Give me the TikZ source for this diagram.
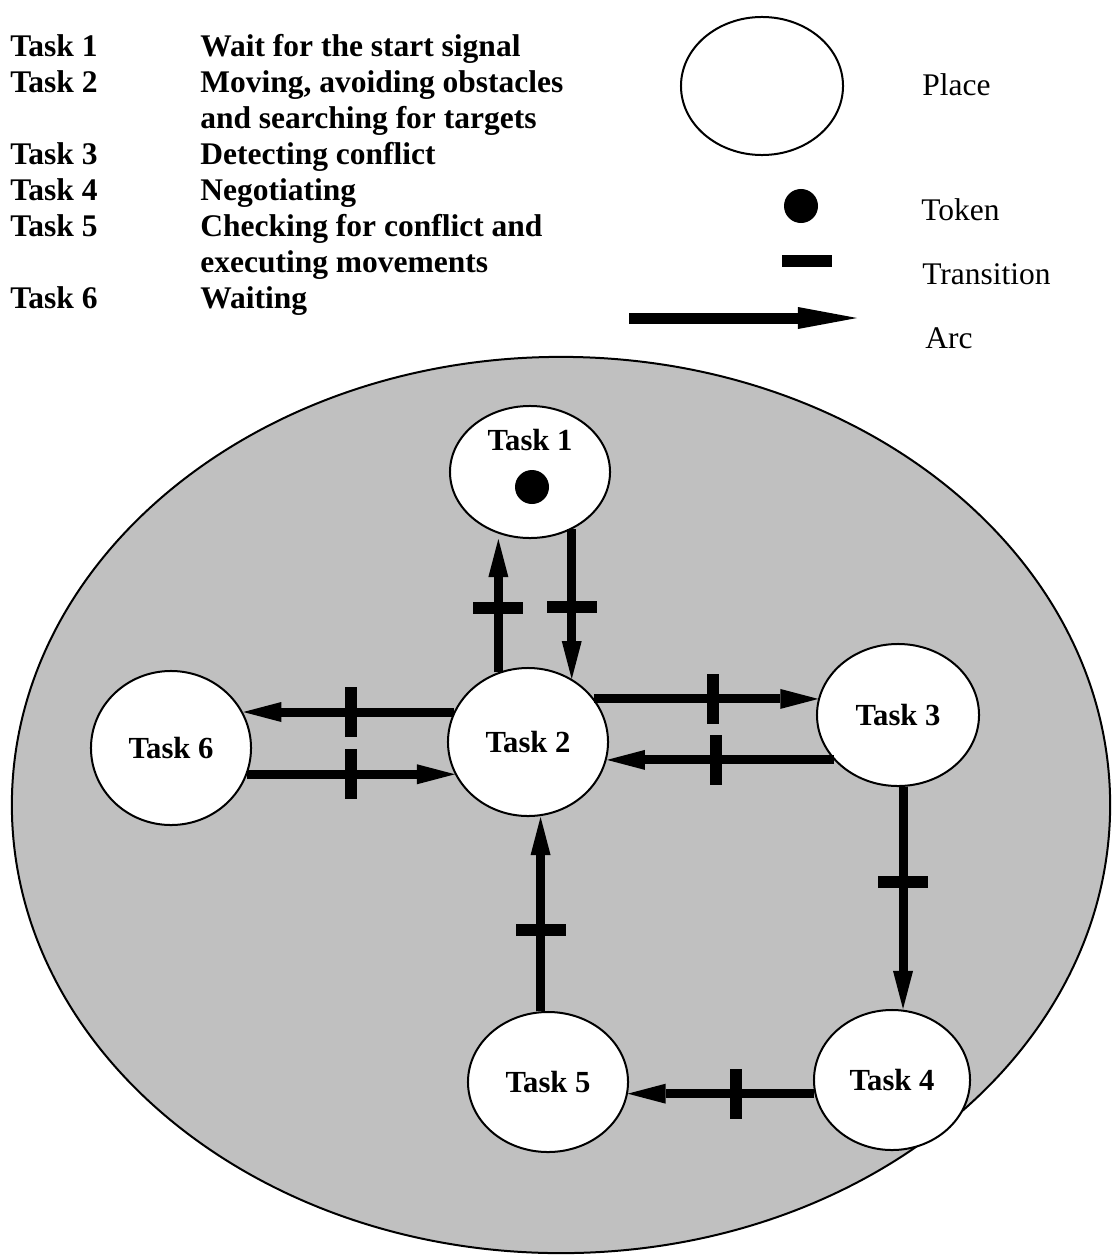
\documentclass[tikz,border=0pt]{standalone}
\usepackage{fontspec}
\setmainfont{Liberation Serif}
\usetikzlibrary{shapes.geometric,arrows.meta}
\definecolor{fieldgrey}{RGB}{192,192,192}

\begin{document}
\begin{tikzpicture}[x=0.025cm,y=-0.025cm]
\tikzstyle{place}=[ellipse, draw, line width=0.05cm, fill=white, inner sep=0pt, minimum width=4cm, minimum height=3.5cm, font=\bfseries\fontsize{21.8}{26}\selectfont]
\tikzstyle{tokendot}=[circle, fill=black, inner sep=0pt, minimum size=0.85cm]
\tikzstyle{tbar}=[rectangle, fill=black, inner sep=0pt, minimum width=0.3cm, minimum height=1.25cm]
\tikzstyle{arcline}=[line width=0.225cm, -{Triangle[length=0.95cm,width=0.5cm,line width=0pt]}]
\tikzstyle{keytext}=[anchor=west, inner sep=0pt, font=\fontsize{22.4}{25.6}\selectfont]
\useasboundingbox (0,0) rectangle (1113,1255);

 \node[anchor=north west, inner sep=0pt, font=\bfseries\fontsize{22.4}{25.6}\selectfont] (tasklist) at (10,31)
   {\begin{tabular}{@{}p{4.75cm}@{}l@{}}
    Task 1 & Wait for the start signal\\
    Task 2 & Moving, avoiding obstacles\\
           & and searching for targets\\
    Task 3 & Detecting conflict\\
    Task 4 & Negotiating\\
    Task 5 & Checking for conflict and\\
           & executing movements\\
    Task 6 & Waiting
   \end{tabular}};

 \node[place, minimum height=3.45cm, minimum width=4.05cm] (keyplace) at (762,86) {};
 \node[tokendot] (keytoken) at (801,206) {};
 \node[tbar, rotate=90] (keytrans) at (807,261) {};
 \coordinate (keyarcA) at (629,318);
 \coordinate (keyarcB) at (857,318);
 \draw[line width=0.275cm, -{Triangle[length=1.475cm,width=0.55cm,line width=0pt]}] (keyarcA) -- (keyarcB);
 \node[keytext] (placetxt) at (922,85) {Place};
 \node[keytext] (tokentxt) at (921,210) {Token};
 \node[keytext] (transtxt) at (922,274) {Transition};
 \node[keytext] (arctxt) at (925,338) {Arc};

 \node[ellipse, draw, line width=0.05cm, fill=fieldgrey, minimum width=27.45cm, minimum height=22.4cm] (field) at (561,805) {};

 \node[place, minimum height=3.3cm] (t1) at (530,472) {};
 \node[font=\bfseries\fontsize{21.8}{26}\selectfont, inner sep=0pt] (t1txt) at (530,440) {Task 1};
 \node[tokendot] (tok) at (532,487) {};
 \node[place, minimum height=3.7cm] (t2) at (528,742) {Task 2};
 \node[place, minimum width=4.05cm, minimum height=3.55cm] (t3) at (898,715) {Task 3};
 \node[place, minimum width=3.9cm] (t4) at (892,1080) {Task 4};
 \node[place] (t5) at (548,1082) {Task 5};
 \node[place, minimum height=3.85cm] (t6) at (171,748) {Task 6};

 \draw[arcline] (t2.113) -- node[tbar, sloped, pos=0.48] (b21) {} (t2.113 |- t1.south);
 \draw[arcline] (t1.-54) -- node[tbar, sloped, pos=0.52] (b12) {} (t1.-54 |- t2.55);
 \draw[arcline] (t2.158) -- node[tbar, sloped, pos=0.49] (b26) {} (t2.158 -| t6.26);
 \draw[arcline] (t6.-19) -- node[tbar, sloped, pos=0.50] (b62) {} (t6.-19 -| t2.204);
 \draw[arcline] (t2.33) -- node[tbar, sloped, pos=0.53] (b23) {} (t2.33 -| t3.168);
 \draw[arcline] (t3.215) -- node[tbar, sloped, pos=0.52] (b32) {} (t3.215 -| t2.-12);
 \draw[arcline] (t3.-86) -- node[tbar, sloped, pos=0.43] (b34) {} (t3.-86 |- t4.north);
 \draw[arcline] (t4.190) -- node[tbar, sloped, pos=0.42] (b45) {} (t4.190 -| t5.-9);
 \draw[arcline] (t5.96) -- node[tbar, sloped, pos=0.42] (b52) {} (t5.96 |- t2.south);
\end{tikzpicture}
\end{document}
